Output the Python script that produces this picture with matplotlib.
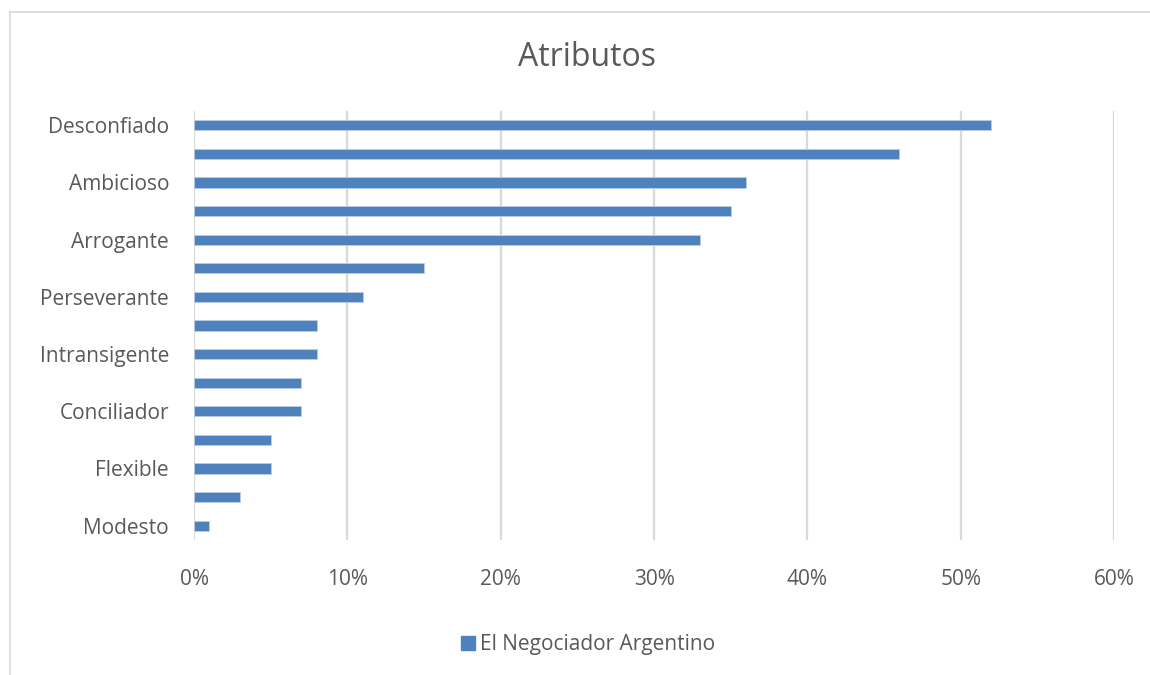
import numpy as np
import matplotlib.pyplot as plt
from matplotlib.lines import Line2D
from matplotlib.ticker import PercentFormatter

plt.rcParams['font.family'] = ['Open Sans', 'DejaVu Sans']

# every other category name is shown on the axis
categorias = ['Desconfiado', '', 'Ambicioso', '', 'Arrogante', '', 'Perseverante', '',
              'Intransigente', '', 'Conciliador', '', 'Flexible', '', 'Modesto']
valores = [52, 46, 36, 35, 33, 15, 11, 8, 8, 7, 7, 5, 5, 3, 1]
serie = 'El Negociador Argentino'
xticks = [0, 10, 20, 30, 40, 50, 60]

azul = '#4F81BD'
gris_texto = '#595959'
gris_linea = '#D9D9D9'

fig = plt.figure(figsize=(11.5, 6.75), dpi=100)
ax = fig.add_axes([0.1687, 0.2, 0.8, 0.6356])

y = np.arange(len(valores))
ax.barh(y, valores, height=0.36, color=azul, edgecolor='#B9CDE5', linewidth=0.6,
        label=serie, zorder=3)

ax.set_ylim(len(valores) - 0.5, -0.5)
ax.set_xlim(0, 60)
ax.set_yticks(y)
ax.set_yticklabels(categorias)
ax.set_xticks(xticks)
ax.xaxis.set_major_formatter(PercentFormatter(decimals=0))

ax.grid(axis='x', color=gris_linea, linewidth=1.6, zorder=0)
for s in ax.spines.values():
    s.set_visible(False)
ax.tick_params(axis='both', length=0, labelsize=15, colors=gris_texto)
ax.tick_params(axis='y', pad=18)
ax.tick_params(axis='x', pad=21)

fig.suptitle('Atributos', x=0.51, y=0.94, fontsize=23, color=gris_texto)

handle = Line2D([], [], marker='s', linestyle='', markersize=10, color=azul)
fig.legend([handle], [serie], loc='center', bbox_to_anchor=(0.51, 0.045),
           frameon=False, fontsize=15, labelcolor=gris_texto,
           handletextpad=0.1, handlelength=1.0)

# outer chart border (top and left visible)
fig.add_artist(Line2D([10 / 1150, 1.0], [1 - 12 / 675, 1 - 12 / 675],
                      transform=fig.transFigure, color=gris_linea, linewidth=1.2))
fig.add_artist(Line2D([10 / 1150, 10 / 1150], [0.0, 1 - 12 / 675],
                      transform=fig.transFigure, color=gris_linea, linewidth=1.2))

fig.savefig('out.png', dpi=100, facecolor='white')
